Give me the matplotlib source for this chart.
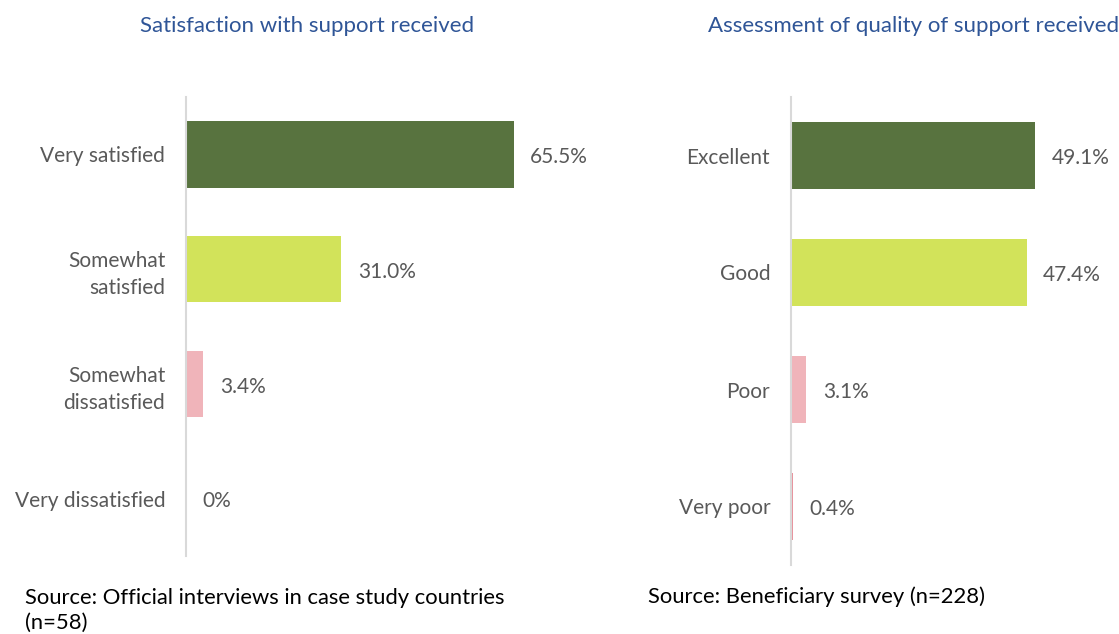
import matplotlib.pyplot as plt

plt.rcParams['font.family'] = ['Lato', 'DejaVu Sans']

# data
sat_labels = ['Very satisfied', 'Somewhat\nsatisfied', 'Somewhat\ndissatisfied', 'Very dissatisfied']
sat_values = [65.5, 31.0, 3.4, 0.0]
sat_text = ['65.5%', '31.0%', '3.4%', '0%']

qual_labels = ['Excellent', 'Good', 'Poor', 'Very poor']
qual_values = [49.1, 47.4, 3.1, 0.4]
qual_text = ['49.1%', '47.4%', '3.1%', '0.4%']

sat_colors = ['#58733F', '#D2E35A', '#F0B4BA', '#F0B4BA']
qual_colors = ['#58733F', '#D2E35A', '#F0B4BA', '#E8919C']

W, H = 1119, 634
fig = plt.figure(figsize=(W / 100, H / 100), dpi=100)


def panel(rect, labels, values, texts, colors, bh):
    ax = fig.add_axes(rect)
    y = list(range(len(values)))
    ax.barh(y, values, height=bh, color=colors)
    for yi, v, t in zip(y, values, texts):
        ax.annotate(t, (v, yi), xytext=(12, -2), textcoords='offset points',
                    va='center', ha='left', fontsize=15, color='#595959',
                    annotation_clip=False)
    ax.set_xlim(0, 66)
    ax.set_ylim(3.5, -0.5)
    ax.set_yticks(y)
    ax.set_yticklabels(labels, fontsize=15, color='#595959', linespacing=1.45)
    ax.tick_params(axis='y', length=0, pad=15)
    ax.set_xticks([])
    for s in ['top', 'right', 'bottom']:
        ax.spines[s].set_visible(False)
    ax.spines['left'].set_color('#D9D9D9')
    ax.spines['left'].set_linewidth(1.5)
    return ax


panel([186 / W, (H - 556) / H, 330 / W, 459 / H], sat_labels, sat_values, sat_text, sat_colors, 0.58)
panel([791 / W, (H - 565) / H, 328 / W, 468 / H], qual_labels, qual_values, qual_text, qual_colors, 0.57)

fig.text(307 / W, 1 - 26 / H, 'Satisfaction with support received', ha='center', va='center',
         fontsize=16, color='#2F5597')
fig.text(914 / W, 1 - 26 / H, 'Assessment of quality of support received', ha='center', va='center',
         fontsize=16, color='#2F5597')

fig.text(25 / W, 1 - 588 / H, 'Source: Official interviews in case study countries\n(n=58)',
         ha='left', va='top', fontsize=15.8, color='black', linespacing=1.32)
fig.text(648 / W, 1 - 597 / H, 'Source: Beneficiary survey (n=228)', ha='left', va='center',
         fontsize=15.8, color='black')

fig.savefig('out.png', dpi=100)
